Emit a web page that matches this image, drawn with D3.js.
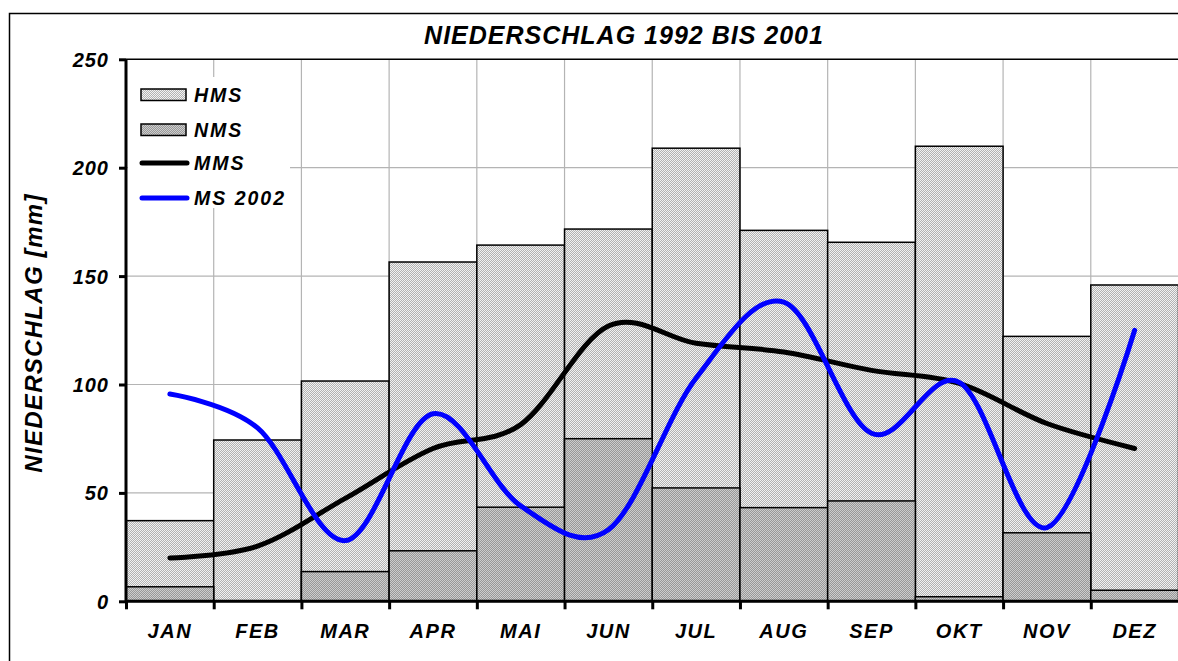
<!DOCTYPE html>
<html>
<head>
<meta charset="utf-8">
<script src="https://cdn.jsdelivr.net/npm/d3@7"></script>
<style>
  html, body { margin: 0; padding: 0; background: #fff; overflow: hidden; }
  svg { display: block; }
  text { font-family: "Liberation Sans", Arial, sans-serif; font-weight: bold; font-style: italic; fill: #000; }
</style>
</head>
<body>
<svg id="chart" width="1178" height="661"></svg>
<script>
const months = ["JAN","FEB","MAR","APR","MAI","JUN","JUL","AUG","SEP","OKT","NOV","DEZ"];
const hms = [37.2, 74.4, 101.6, 156.5, 164.3, 171.7, 209.0, 171.1, 165.6, 209.9, 122.2, 145.9];
const nms = [6.7, 0, 13.7, 23.3, 43.4, 75.0, 52.3, 43.2, 46.3, 2.1, 31.6, 5.1];
const mms = [20, 25.5, 47.5, 70.5, 81.5, 127, 119, 115, 106.5, 100.5, 82, 70.5];
const ms2002 = [95.6, 80, 28, 86.5, 44, 33, 103, 138, 77.5, 101, 34, 125];
const yTicks = [0, 50, 100, 150, 200, 250];
const legendItems = [
  {name: "HMS", type: "bar", fill: "url(#patHMS)"},
  {name: "NMS", type: "bar", fill: "url(#patNMS)"},
  {name: "MMS", type: "line", color: "#000000"},
  {name: "MS 2002", type: "line", color: "#0000ff"}
];
const title = "NIEDERSCHLAG 1992 BIS 2001";
const yTitle = "NIEDERSCHLAG [mm]";

const svg = d3.select("#chart");
const pLeft = 126, pRight = 1178.5, pTop = 59.3, pBottom = 601.3;

// patterns
const defs = svg.append("defs");
function pattern(id, a, b) {
  const p = defs.append("pattern").attr("id", id).attr("patternUnits", "userSpaceOnUse")
    .attr("width", 2).attr("height", 2);
  p.append("rect").attr("width", 2).attr("height", 2).attr("fill", a).attr("shape-rendering", "crispEdges");
  p.append("rect").attr("x", 1).attr("y", 0).attr("width", 1).attr("height", 1).attr("fill", b).attr("shape-rendering", "crispEdges");
  p.append("rect").attr("x", 0).attr("y", 1).attr("width", 1).attr("height", 1).attr("fill", b).attr("shape-rendering", "crispEdges");
}
pattern("patHMS", "#f2f2f2", "#b2b2b2");
pattern("patNMS", "#cdcdcd", "#989898");

// outer frame (left and top edges visible)
svg.append("path").attr("d", "M1178,13.5H9.5V661").attr("fill", "none")
  .attr("stroke", "#000").attr("stroke-width", 1.5);

const y = d3.scaleLinear().domain([0, 250]).range([pBottom, pTop]);
const xb = d3.scaleLinear().domain([0, 12]).range([pLeft, pRight]);
const xBand = d3.scaleBand().domain(months).range([pLeft, pRight]).padding(0);
const xc = m => xBand(m) + xBand.bandwidth() / 2;

// gridlines
const grid = svg.append("g");
grid.selectAll("line.h").data(yTicks.filter(d => d > 0 && d < 250)).join("line")
  .attr("x1", pLeft).attr("x2", 1178).attr("y1", d => y(d)).attr("y2", d => y(d))
  .attr("stroke", "#b4b4b4").attr("stroke-width", 1.2);
grid.selectAll("line.v").data(d3.range(1, 12)).join("line")
  .attr("x1", d => xb(d)).attr("x2", d => xb(d)).attr("y1", pTop).attr("y2", pBottom)
  .attr("stroke", "#b4b4b4").attr("stroke-width", 1.2);

// plot top border
svg.append("line").attr("x1", pLeft).attr("x2", 1178).attr("y1", pTop).attr("y2", pTop)
  .attr("stroke", "#000").attr("stroke-width", 1.5);

// bars
svg.append("g").selectAll("rect").data(months).join("rect")
  .attr("x", m => xBand(m)).attr("width", xBand.bandwidth())
  .attr("y", (m, i) => y(hms[i])).attr("height", (m, i) => y(0) - y(hms[i]))
  .attr("fill", "url(#patHMS)").attr("stroke", "#000").attr("stroke-width", 1.5);
svg.append("g").selectAll("rect").data(months.filter((m, i) => nms[i] > 0)).join("rect")
  .attr("x", m => xBand(m)).attr("width", xBand.bandwidth())
  .attr("y", m => y(nms[months.indexOf(m)])).attr("height", m => y(0) - y(nms[months.indexOf(m)]))
  .attr("fill", "url(#patNMS)").attr("stroke", "#000").attr("stroke-width", 1.5);

// lines
const line = d3.line().x((d, i) => xc(months[i])).y(d => y(d)).curve(d3.curveCardinal.tension(0));
svg.append("path").datum(mms).attr("d", line).attr("fill", "none")
  .attr("stroke", "#000").attr("stroke-width", 5).attr("stroke-linecap", "round").attr("stroke-linejoin", "round");
svg.append("path").datum(ms2002).attr("d", line).attr("fill", "none")
  .attr("stroke", "#0000ff").attr("stroke-width", 5).attr("stroke-linecap", "round").attr("stroke-linejoin", "round");

// y axis
const yAxis = svg.append("g").attr("transform", `translate(${pLeft},0)`)
  .call(d3.axisLeft(y).tickValues(yTicks).tickSize(7).tickPadding(10).tickFormat(d3.format("d")));
yAxis.select(".domain").attr("stroke", "#000").attr("stroke-width", 3).attr("d", `M0,${pTop}V${pBottom}`);
yAxis.selectAll(".tick line").attr("stroke", "#000").attr("stroke-width", 3);
yAxis.selectAll(".tick text").attr("font-size", 20).style("letter-spacing", "1px")
  .attr("font-family", null).attr("dy", "0.35em").attr("x", -17);

// x axis ticks at boundaries
const xAxisTicks = svg.append("g").attr("transform", `translate(0,${pBottom})`)
  .call(d3.axisBottom(xb).tickValues(d3.range(0, 12)).tickSize(8).tickFormat(""));
xAxisTicks.select(".domain").attr("stroke", "#000").attr("stroke-width", 3).attr("d", `M${pLeft},0H1178`);
xAxisTicks.selectAll(".tick line").attr("stroke", "#000").attr("stroke-width", 3);
// x labels
const xAxisLabels = svg.append("g").attr("transform", `translate(0,${pBottom})`)
  .call(d3.axisBottom(xBand).tickSize(0).tickPadding(23));
xAxisLabels.select(".domain").remove();
xAxisLabels.selectAll(".tick text").attr("font-size", 20).attr("font-family", null)
  .style("letter-spacing", "1.5px").attr("dy", "0.71em");

// title
svg.append("text").attr("x", 624).attr("y", 44).attr("text-anchor", "middle")
  .attr("font-size", 25).style("letter-spacing", "1px").text(title);

// y title
svg.append("text").attr("transform", "translate(42,333) rotate(-90)").attr("text-anchor", "middle")
  .attr("font-size", 24).style("letter-spacing", "1.3px").text(yTitle);

// legend
const lg = svg.append("g");
lg.append("rect").attr("x", 128).attr("y", 77).attr("width", 162).attr("height", 131).attr("fill", "#fff");
const rowY = [95, 130, 163, 198];
legendItems.forEach((it, i) => {
  const cy = rowY[i];
  if (it.type === "bar") {
    lg.append("rect").attr("x", 141).attr("y", cy - 6).attr("width", 45).attr("height", 11.5)
      .attr("fill", it.fill).attr("stroke", "#000").attr("stroke-width", 1.5);
  } else {
    lg.append("line").attr("x1", 142).attr("x2", 187).attr("y1", cy).attr("y2", cy)
      .attr("stroke", it.color).attr("stroke-width", 5).attr("stroke-linecap", "round");
  }
  lg.append("text").attr("x", 194).attr("y", cy + 6.5).attr("font-size", 19.5)
    .style("letter-spacing", "2px").text(it.name);
});
</script>
</body>
</html>
